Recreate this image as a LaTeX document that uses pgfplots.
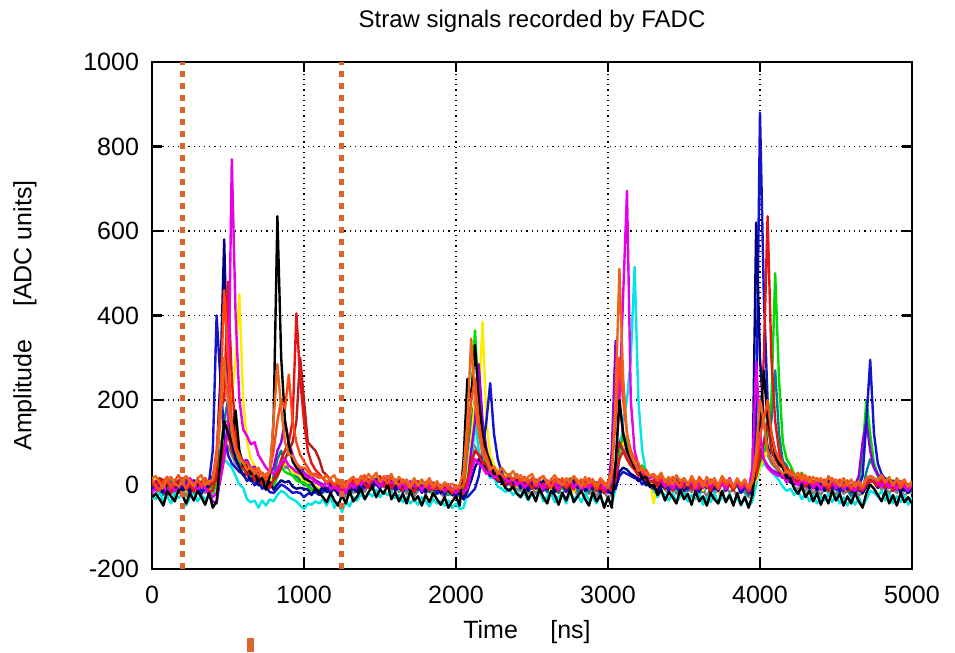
\documentclass[border=0pt]{standalone}
\usepackage{pgfplots}
\usepackage{pgfplotstable}
\pgfplotsset{compat=1.18}
\usepackage{fontspec}
\setmainfont{Liberation Sans}
\definecolor{cA}{RGB}{20,20,205}
\definecolor{cB}{RGB}{0,0,130}
\definecolor{cC}{RGB}{230,0,230}
\definecolor{cD}{RGB}{230,20,20}
\definecolor{cE}{RGB}{0,0,0}
\definecolor{cF}{RGB}{235,100,30}
\definecolor{cG}{RGB}{255,235,0}
\definecolor{cH}{RGB}{0,220,0}
\definecolor{cI}{RGB}{0,230,230}
\definecolor{cJ}{RGB}{180,30,30}
\definecolor{cK}{RGB}{150,0,220}
\definecolor{cL}{RGB}{130,130,130}
\definecolor{cM}{RGB}{0,130,140}
\definecolor{cN}{RGB}{255,70,20}
\definecolor{vor}{RGB}{220,100,45}
\pgfplotstableread{
t A B C D E F G H I J K L M N
0 -5 10 -20 5 -30 15 0 -10 -25 8 -15 -35 -5 12
25 -12 -3 -8 -10 -22 20 12 5 -35 -2 8 -20 8 -3
50 8 -15 -12 12 -35 5 -12 -2 -18 15 -5 -8 -12 -15
75 2 -18 6 -5 -50 -8 -5 10 -40 10 -20 -15 -25 6
100 -18 5 -25 10 -15 12 8 -15 -28 -5 15 -25 0 18
125 -10 -8 -2 -20 -28 18 -18 15 -45 -15 2 -5 -12 -8
150 10 -15 -15 -2 -40 2 5 -5 -20 4 -12 -30 8 10
175 -5 8 -10 8 -12 -5 10 2 -32 -18 10 -18 -20 22
200 -20 -12 10 15 -25 12 -8 -20 -22 0 -8 -10 -5 5
225 5 0 -8 -12 -45 20 -15 -8 -50 12 5 -28 -15 -10
250 -12 -20 15 0 -20 8 2 12 -30 -5 -20 -8 5 8
275 -2 10 2 -18 -38 -5 -10 -3 -18 8 -2 -22 -10 -2
300 8 -5 -15 10 -15 15 12 -18 -40 -12 12 -15 2 12
325 -22 5 5 2 -30 22 -5 8 -25 5 -18 -2 -22 -5
350 -8 -12 -10 -8 -48 -2 5 -12 -35 15 -5 -20 6 15
375 5 -2 -18 -15 -20 8 -12 10 -28 -8 -25 -10 -12 0
400 80 20 -30 -15 -55 10 -5 -20 -30 5 -40 -20 -8 15
425 400 60 -20 30 -40 60 0 5 -20 10 -45 0 20 80
450 250 250 10 180 60 150 20 60 30 40 20 50 80 200
475 120 580 60 200 150 300 60 150 60 90 80 100 150 460
500 70 200 150 480 120 200 120 150 50 120 130 90 200 300
525 50 100 770 250 100 120 200 100 40 80 110 70 100 150
550 40 60 400 120 175 80 300 70 20 60 80 50 70 90
575 30 40 200 70 80 60 450 50 0 45 70 40 50 70
600 25 22 130 48 45 52 200 35 -8 40 55 22 45 50
625 8 28 115 22 48 35 100 38 -35 25 58 12 28 52
650 15 8 95 30 25 42 60 18 -42 32 40 20 20 35
675 -2 15 100 10 28 25 45 25 -38 15 42 2 25 38
700 8 -2 70 18 8 40 25 8 -55 22 25 10 8 22
725 -10 5 55 0 15 20 28 15 -38 5 28 -5 15 28
750 -5 -12 40 8 -12 25 10 0 -50 10 12 -8 0 12
775 -18 5 30 -8 20 30 15 5 -35 -2 25 -2 -5 30
800 -20 -12 25 10 150 150 5 -5 -40 10 40 0 20 80
825 -10 0 35 30 635 285 20 20 -25 20 80 40 60 150
850 0 10 50 60 300 180 40 40 -15 40 100 50 80 200
875 -5 5 60 80 150 100 50 30 -20 60 150 40 50 180
900 -12 8 45 100 95 70 45 25 -30 80 100 38 40 260
925 -20 -5 38 150 55 68 28 22 -35 100 70 20 35 150
950 -18 -10 30 405 40 50 25 10 -40 150 50 20 20 100
975 -20 -8 25 250 30 40 20 5 -50 300 40 10 10 70
1000 -30 -10 25 150 15 40 5 5 -58 200 28 8 -2 55
1025 -22 -12 15 80 10 30 5 -5 -45 100 20 0 0 40
1050 -22 -25 15 50 5 20 5 -15 -48 90 18 -10 0 25
1075 -18 -10 5 35 -10 20 -5 -8 -40 80 10 -10 -10 25
1100 -25 -18 0 25 -20 15 -10 -15 -45 60 5 -15 -15 20
1125 -15 -5 -5 15 -30 18 0 -5 -35 30 0 -8 -20 15
1150 -8 -18 8 2 -42 5 -12 -12 -50 22 -10 -15 -5 22
1175 -20 2 -12 8 -20 15 5 -18 -28 10 -15 -22 -18 8
1200 -5 -12 -2 -10 -38 22 -8 2 -55 -2 -2 -5 -10 -2
1225 -25 -20 -15 0 -50 2 -15 -10 -42 5 -18 -25 -22 12
1250 -12 -5 0 -18 -25 10 2 -25 -65 -10 -5 -12 -2 -8
1275 -2 -15 -20 5 -45 -8 -10 -5 -40 8 -20 -30 -15 5
1300 -18 0 5 -8 -15 12 8 -15 -52 -5 -8 -8 -25 10
1325 -5 -10 -8 10 -40 18 -5 5 -30 12 5 -20 -8 18
1350 8 -18 12 -2 -28 2 12 -10 -38 2 -12 -15 2 0
1375 -12 5 -2 12 -10 20 -2 8 -22 18 2 -2 -12 15
1400 2 -5 15 0 -35 8 5 -5 -35 5 -10 -18 8 22
1425 -8 10 2 -8 -18 25 15 12 -20 -8 12 2 -5 5
1450 12 -8 18 15 -5 12 -5 -2 -28 15 -2 -12 10 18
1475 0 12 5 5 -30 28 8 15 -12 8 8 5 -2 25
1500 -10 2 -5 12 -12 5 18 2 -30 20 15 -8 12 8
1525 8 15 10 -5 -22 20 -2 10 -15 -2 -5 8 -5 15
1550 -2 -5 20 8 0 15 10 -8 -25 10 10 -5 5 2
1575 5 8 2 -10 -35 25 -8 12 -18 5 -2 -15 -10 18
1600 -15 -8 12 5 -18 2 2 -2 -32 -8 8 -2 5 10
1625 -5 5 -8 -2 -40 18 -12 -12 -25 12 -10 -18 -8 -2
1650 -18 -12 5 -15 -22 5 5 5 -42 2 -5 -8 2 12
1675 0 -2 -12 2 -45 12 -5 -8 -30 -10 2 -22 -15 0
1700 -12 -15 8 -8 -15 -5 -15 -18 -45 5 -15 -12 -2 -8
1725 -8 2 -5 -18 -38 15 2 -2 -35 -5 0 -28 -20 8
1750 2 -10 2 0 -28 -2 -8 -12 -48 8 -12 -15 -5 -2
1775 -20 -5 -15 -10 -50 10 5 0 -30 -12 -2 -5 -15 12
1800 -5 -18 5 -2 -25 2 -12 -15 -40 0 -18 -22 2 -5
1825 -15 -2 -8 -15 -42 15 -2 -5 -52 -8 -5 -10 -18 5
1850 -2 -12 -12 -5 -20 -5 -15 -20 -35 5 -12 -28 -8 -10
1875 -22 0 2 -12 -35 8 2 -8 -45 -15 0 -15 -22 2
1900 -10 -20 -5 -2 -48 -8 -8 -2 -40 -2 -20 -22 -5 -12
1925 -25 -8 -15 -18 -30 5 -18 -15 -50 -10 -8 -30 -15 0
1950 -8 -15 0 -8 -55 -2 -5 -22 -38 0 -15 -18 -25 -8
1975 -18 -25 -12 -22 -40 2 -15 -10 -55 -18 -22 -25 -10 -15
2000 -28 -10 -20 -5 -28 -10 -22 -25 -45 -8 -10 -32 -20 -2
2025 -15 -22 -8 -18 -50 0 -10 -15 -58 -20 -18 -20 -28 -10
2050 -25 -35 -18 -22 60 30 -20 -10 -55 -18 -35 -30 -10 0
2075 -30 -15 -10 0 250 150 20 100 -20 10 0 30 80 100
2100 -20 10 30 50 200 345 100 200 40 50 80 100 150 200
2125 -10 40 60 80 330 200 200 365 150 80 150 90 200 250
2150 20 60 50 70 200 120 200 200 80 70 285 70 120 150
2175 80 50 40 50 120 70 385 100 50 55 150 50 80 90
2200 150 42 25 48 75 58 150 55 35 35 85 45 45 68
2225 240 20 32 25 55 35 70 50 15 35 45 25 40 40
2250 120 22 15 28 25 42 45 30 18 15 40 15 20 42
2275 60 8 22 10 28 25 35 32 -5 22 20 18 25 25
2300 30 5 25 10 10 40 20 30 -10 20 20 5 10 25
2325 10 -2 12 0 -8 28 18 12 -18 8 10 -5 5 15
2350 18 8 5 10 -15 20 5 25 -10 15 2 2 12 22
2375 2 -5 15 -8 -5 32 12 8 -25 -2 15 -10 -5 10
2400 8 10 -2 5 -22 15 -5 18 -15 12 8 -8 8 25
2425 -5 -8 8 12 -30 22 8 5 -30 5 -5 -15 -10 8
2450 10 2 -10 -5 -12 8 15 -8 -20 15 12 2 2 18
2475 -12 -15 5 8 -35 18 -2 12 -38 -8 2 -20 -15 5
2500 2 5 12 -10 -18 25 5 -5 -22 8 -10 -5 5 15
2525 -8 -10 -5 5 -40 5 -12 10 -35 2 12 -22 -8 -2
2550 8 -2 2 -12 -10 15 10 -2 -15 -12 -5 -10 10 12
2575 -15 8 -12 2 -30 20 -8 5 -40 10 8 -2 -2 20
2600 5 -12 10 -8 -45 2 2 -12 -28 -5 -12 -18 -18 5
2625 -2 2 -5 8 -15 12 -15 8 -20 5 2 -25 5 -8
2650 12 -18 5 -2 -25 22 8 -5 -42 -8 10 -8 -10 12
2675 -10 -5 -12 -15 -48 8 -5 12 -30 12 -8 -15 -20 2
2700 0 5 8 5 -20 -2 12 -10 -22 -2 5 -22 2 15
2725 -18 -10 -2 -10 -38 15 -10 2 -45 5 -15 -5 -12 -5
2750 5 -2 12 2 -12 5 2 15 -18 -12 12 -18 -5 10
2775 -5 12 -8 -12 -42 20 -18 -8 -35 8 -2 -10 8 18
2800 8 -8 5 8 -28 10 5 5 -25 -5 5 -25 -15 2
2825 -12 2 -15 -5 -15 -5 -2 -12 -42 10 -10 -2 2 12
2850 2 -15 2 10 -35 18 12 8 -20 -2 8 -15 -8 -5
2875 -8 -5 -10 -8 -50 2 -8 -5 -38 12 -5 -22 -18 15
2900 10 -12 8 2 -18 12 -12 10 -30 -10 12 -8 5 5
2925 -15 5 -5 -15 -40 -2 5 -10 -45 2 -8 -28 -10 -10
2950 0 -18 10 -5 -25 15 -15 2 -25 8 2 -12 -22 8
2975 -20 -8 -12 -20 -55 5 -8 -15 -52 -15 -12 -20 -5 -2
3000 -8 -15 -2 -2 -30 -8 2 -5 -35 5 -20 -30 -18 5
3025 -5 -22 5 -15 -55 25 -12 0 -45 0 80 -25 -18 35
3050 -10 -5 30 10 50 200 20 30 -10 50 340 30 40 150
3075 20 30 200 60 200 510 80 80 60 100 200 80 100 300
3100 30 40 450 80 120 250 100 120 150 80 120 100 120 200
3125 25 35 695 60 80 120 80 100 200 60 80 70 90 120
3150 20 25 200 45 60 70 60 70 300 45 60 50 70 80
3175 15 20 80 35 40 50 45 50 515 35 45 40 50 60
3200 15 8 45 20 35 32 40 38 200 30 28 35 35 50
3225 0 15 25 28 15 40 20 45 80 12 35 15 25 30
3250 8 -2 30 10 18 25 25 30 30 20 18 15 15 35
3275 -5 0 15 5 -5 20 10 20 0 5 15 0 10 20
3300 -10 -5 20 10 0 25 -45 25 -15 10 20 -5 5 22
3325 5 -15 8 -5 -25 15 -2 8 -30 18 5 -18 12 8
3350 -8 2 15 12 -12 28 10 20 -18 5 15 0 -5 18
3375 2 -10 -5 -8 -38 5 -12 2 -25 -5 -5 -12 8 12
3400 -15 8 10 5 -18 18 5 12 -38 12 10 -20 -8 0
3425 8 -12 -10 -15 -30 0 15 -8 -20 -8 -2 -5 2 18
3450 -5 -2 5 2 -45 22 -5 15 -42 10 12 -22 -12 5
3475 -18 10 -12 10 -12 8 -15 -5 -28 -12 -10 -10 5 -5
3500 5 -15 12 -8 -35 15 8 5 -18 5 8 -25 -5 15
3525 -10 0 -2 5 -22 -2 -5 -12 -40 -10 -12 -8 -15 2
3550 10 -8 8 -12 -48 20 12 10 -25 8 5 -18 10 12
3575 -5 5 -15 2 -15 5 -8 -2 -35 -2 -15 -5 -10 -8
3600 -18 -12 5 -10 -40 12 -2 12 -22 12 10 -22 2 18
3625 2 -5 -8 8 -28 -5 -15 -8 -48 -8 -2 -12 -18 5
3650 -8 8 12 -2 -50 18 8 5 -30 2 12 -28 -5 -5
3675 8 -18 -5 -15 -20 2 -10 -15 -42 -15 -8 -8 5 12
3700 -12 -2 8 5 -35 15 5 8 -20 8 5 -20 -12 2
3725 -2 -15 -12 -8 -45 -2 -18 -5 -45 -5 -15 -15 -2 -10
3750 10 5 2 10 -15 20 2 15 -28 12 8 -25 8 15
3775 -15 -8 -10 -12 -42 8 -12 -10 -38 -10 -5 -5 -15 -2
3800 2 2 15 2 -25 12 10 2 -22 5 15 -18 5 10
3825 -8 -12 -5 -15 -50 -5 -5 -12 -45 -12 -10 -12 -10 -8
3850 5 8 8 5 -20 15 8 8 -30 8 2 -28 -2 12
3875 -20 -15 -12 -10 -48 0 -15 -15 -50 -5 -12 -8 -20 -5
3900 -5 -2 2 -2 -30 12 2 2 -28 5 5 -20 -8 8
3925 -10 -20 -15 -18 -55 -8 -12 -12 -52 -15 -15 -30 -25 -12
3950 -25 -5 40 -5 -25 10 -5 -5 -40 -2 30 -15 -10 5
3975 150 620 290 20 60 80 10 20 0 20 100 30 20 50
4000 880 300 120 100 150 200 40 50 40 60 80 70 60 120
4025 450 150 60 300 270 150 60 80 50 100 60 100 80 150
4050 200 90 40 635 150 80 80 120 40 150 45 70 120 200
4075 120 60 30 300 120 60 100 200 30 80 35 50 150 120
4100 80 45 25 150 70 45 60 500 20 60 30 40 270 80
4125 60 35 20 80 50 35 45 250 10 45 25 30 120 60
4150 52 18 22 45 40 25 42 100 -5 40 15 25 55 50
4175 25 22 5 40 15 32 20 60 -15 20 22 5 45 28
4200 28 5 18 18 15 25 25 45 -10 25 12 10 20 35
4225 5 0 5 10 -10 20 10 25 -25 8 10 -5 10 20
4250 15 8 -2 5 -22 28 2 15 -15 18 2 -12 2 12
4275 -5 -5 12 15 -5 10 15 28 -35 2 15 2 15 25
4300 8 10 2 -5 -30 22 5 10 -20 12 -5 -15 -5 8
4325 -10 -8 10 8 -15 5 -10 18 -40 -5 10 -5 8 18
4350 2 5 -8 -10 -40 18 8 2 -25 8 -8 -22 -8 2
4375 -15 -12 5 5 -20 8 -5 12 -45 -10 5 -10 5 15
4400 5 2 -12 -8 -48 15 10 -8 -28 5 -12 -25 -12 5
4425 -8 -15 8 2 -25 -2 -12 8 -38 -12 8 -8 2 12
4450 8 -5 -5 -15 -45 20 2 -5 -22 10 -5 -20 -15 -5
4475 -12 5 10 5 -15 8 -8 10 -42 -5 10 -12 5 15
4500 2 -12 -10 -8 -38 12 8 -12 -25 8 -10 -25 -8 2
4525 -18 -2 5 8 -22 -5 -15 5 -45 -12 5 -8 -18 12
4550 5 -15 -12 -12 -50 15 2 -10 -30 5 -12 -22 2 -5
4575 -10 5 2 2 -28 -2 -10 2 -50 -15 2 -15 -12 10
4600 -2 -18 -8 -15 -45 12 -15 -12 -32 0 -8 -28 -25 -8
4625 -20 -5 -15 -2 -20 -5 5 -5 -48 -10 -2 -10 -5 5
4650 -5 -12 2 -12 -40 8 -8 -8 -30 5 20 -25 -15 -2
4675 20 -20 -12 -15 -55 -5 -12 80 -52 -12 100 -22 -15 -8
4700 150 -5 10 0 -20 15 5 200 -35 5 150 0 30 10
4725 295 10 20 10 0 20 10 120 -15 10 80 20 60 20
4750 120 5 15 5 -10 15 5 50 -20 5 40 10 40 15
4775 50 -8 5 -5 -25 10 0 25 -28 0 25 0 20 8
4800 25 8 -5 10 -40 22 10 10 -15 12 12 -12 5 18
4825 12 -10 10 -8 -15 5 -8 15 -38 -8 2 -5 15 5
4850 -5 5 -8 5 -45 18 8 -5 -22 8 15 -22 -8 15
4875 8 -15 5 -15 -25 -2 -12 10 -45 -10 -5 -8 5 -2
4900 -12 2 -12 2 -50 15 5 -8 -28 5 10 -20 -12 12
4925 2 -18 8 -10 -20 2 -15 5 -42 -15 -8 -12 2 -8
4950 -15 -5 -5 5 -42 12 2 -12 -25 2 5 -28 -15 8
4975 -2 -20 -15 -12 -30 -5 -10 0 -48 -12 -12 -15 -5 -5
5000 -10 -8 2 -2 -45 8 -2 -8 -30 5 0 -20 -18 2
}\traces
\begin{document}
\begin{tikzpicture}
\begin{axis}[
  at={(0,0)}, anchor=south west,
  scale only axis, width=380pt, height=253.5pt,
  xmin=0, xmax=5000, ymin=-200, ymax=1000,
  xtick={0,1000,2000,3000,4000,5000},
  ytick={-200,0,200,400,600,800,1000},
  grid=major,
  major grid style={black, line width=0.6pt, dotted},
  tick align=inside, major tick length=5pt,
  tick style={black, line width=1.2pt},
  axis line style={black, line width=1.2pt},
  tick label style={font=\fontsize{12.5}{14}\selectfont},
  /pgf/number format/assume math mode=true,
  /pgf/number format/set thousands separator={},
  xticklabel style={yshift=-5pt},
  yticklabel style={xshift=-3pt},
  every axis plot/.append style={line width=1.2pt, line join=round},
]
\addplot[cL] table[x=t,y=L]{\traces};
\addplot[cM] table[x=t,y=M]{\traces};
\addplot[cI] table[x=t,y=I]{\traces};
\addplot[cG] table[x=t,y=G]{\traces};
\addplot[cH] table[x=t,y=H]{\traces};
\addplot[cK] table[x=t,y=K]{\traces};
\addplot[cJ] table[x=t,y=J]{\traces};
\addplot[cA] table[x=t,y=A]{\traces};
\addplot[cB] table[x=t,y=B]{\traces};
\addplot[cD] table[x=t,y=D]{\traces};
\addplot[cC] table[x=t,y=C]{\traces};
\addplot[cE] table[x=t,y=E]{\traces};
\addplot[cN] table[x=t,y=N]{\traces};
\addplot[cF] table[x=t,y=F]{\traces};
\addplot[vor, line width=2.5pt, dash pattern=on 3pt off 3pt] coordinates {(200,-200) (200,1000)};
\addplot[vor, line width=2.5pt, dash pattern=on 3pt off 3pt] coordinates {(1250,-200) (1250,1000)};
\end{axis}
\node[font=\fontsize{12}{14}\selectfont] at (190pt,274pt) {Straw signals recorded by FADC};
\node[font=\fontsize{12.5}{14}\selectfont] at (187.5pt,-31.5pt) {Time\hspace{1.3em}[ns]};
\node[font=\fontsize{12.5}{14}\selectfont, rotate=90] at (-63.5pt,126.75pt) {Amplitude\hspace{1.3em}[ADC units]};
\fill[vor] (47.5pt,-41.5pt) rectangle (51pt,-34.5pt);
\pgfresetboundingbox
\path (-76pt,-42pt) rectangle (401.5pt,284.5pt);
\end{tikzpicture}
\end{document}
